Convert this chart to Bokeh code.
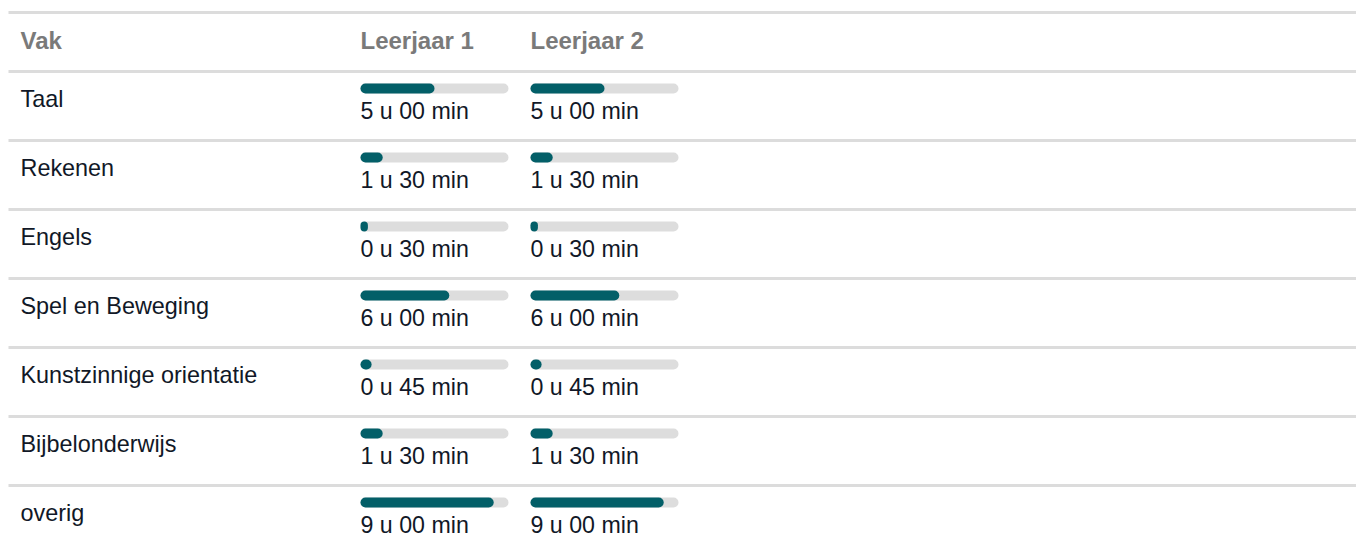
from bokeh.plotting import figure
from bokeh.models import Range1d, ColumnDataSource
from bokeh.embed import file_html
from bokeh.resources import INLINE
from bokeh.core.properties import value

subjects = ["Taal", "Rekenen", "Engels", "Spel en Beweging",
            "Kunstzinnige orientatie", "Bijbelonderwijs", "overig"]
leerjaar1_min = [300, 90, 30, 360, 45, 90, 540]
leerjaar2_min = [300, 90, 30, 360, 45, 90, 540]
columns = ["Vak", "Leerjaar 1", "Leerjaar 2"]
max_min = 600

W, H = 1356, 536
FONT = "Liberation Sans"
TEXT_COL = "#111827"
HEAD_COL = "#7a7a7a"
TEAL = "#035F68"
TRACK = "#dddddd"

p = figure(width=W, height=H, output_backend="svg", toolbar_location=None,
           x_range=Range1d(0, W), y_range=Range1d(H, 0), min_border=0)
p.axis.visible = False
p.grid.visible = False
p.outline_line_color = None
p.background_fill_color = "white"
p.border_fill_color = "white"

header_top = 12
row_top0 = 71
row_h = 69
n = len(subjects)
x_left = 8

# separator lines
line_ys = [header_top] + [row_top0 + row_h * i for i in range(n + 1)]
p.segment(x0=[x_left] * len(line_ys), x1=[W] * len(line_ys), y0=line_ys, y1=line_ys,
          line_color="#dcdcdc", line_width=3)

# header
head_x = [20, 360, 530]
p.text(x=head_x, y=[40] * 3, text=columns, text_font=value(FONT),
       text_font_style="bold", text_font_size="24px", text_color=HEAD_COL,
       text_baseline="middle", text_align="left")

row_tops = [row_top0 + row_h * i for i in range(n)]

# row labels
p.text(x=[20] * n, y=[t + 27 for t in row_tops], text=subjects, text_font=value(FONT),
       text_font_size="23.4px", text_color=TEXT_COL, text_baseline="middle", text_align="left")

bar_w = 148
for col_left, vals in [(360, leerjaar1_min), (530, leerjaar2_min)]:
    ys = [t + 17 for t in row_tops]
    src = ColumnDataSource(dict(
        y=ys,
        left=[col_left] * n,
        right_track=[col_left + bar_w] * n,
        right_fill=[col_left + bar_w * v / max_min for v in vals],
        label=[f"{v // 60} u {v % 60:02d} min" for v in vals],
        ty=[t + 39 for t in row_tops],
        tx=[col_left] * n,
    ))
    p.hbar(y="y", left="left", right="right_track", height=10, source=src,
           fill_color=TRACK, line_color=None, border_radius=5)
    p.hbar(y="y", left="left", right="right_fill", height=10, source=src,
           fill_color=TEAL, line_color=None, border_radius=5)
    p.text(x="tx", y="ty", text="label", source=src, text_font=value(FONT),
           text_font_size="23.2px", text_color=TEXT_COL, text_baseline="middle",
           text_align="left")

open("out.html", "w").write(file_html(p, INLINE))
